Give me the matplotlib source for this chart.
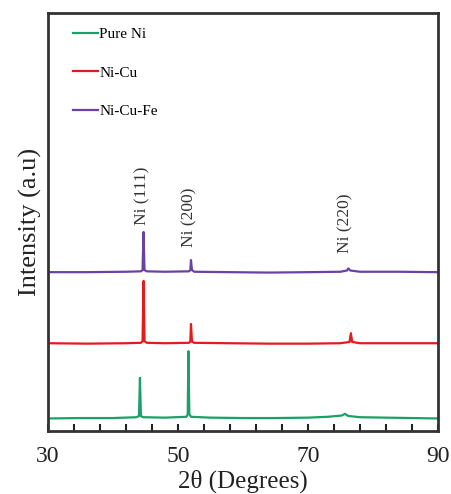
import matplotlib
matplotlib.use("Agg")
import matplotlib.pyplot as plt
from matplotlib.ticker import FixedLocator

plt.rcParams['font.family'] = ['Liberation Serif', 'DejaVu Serif']

# Pure Ni
x_ni = [30, 35, 40, 43.6, 44.0, 44.15, 44.3, 44.6, 48, 51.3, 51.5, 51.6, 51.75, 52.0,
        55, 60, 65, 70, 73, 75.2, 75.7, 76.2, 78, 82, 86, 90]
y_ni = [3.0, 3.1, 3.1, 3.3, 3.6, 12.7, 3.6, 3.3, 3.2, 3.4, 4.0, 19.1, 4.0, 3.4,
        3.2, 3.1, 3.1, 3.2, 3.4, 3.7, 4.1, 3.6, 3.3, 3.2, 3.1, 3.0]
# Ni-Cu
x_nicu = [30, 36, 42, 44.3, 44.55, 44.7, 44.85, 45.2, 48, 51.7, 51.9, 52.0, 52.15, 52.5,
          58, 64, 70, 75, 76.4, 76.6, 76.8, 78, 84, 90]
y_nicu = [21.0, 20.9, 21.0, 21.1, 21.5, 35.9, 21.5, 21.1, 21.0, 21.1, 21.4, 25.6, 21.4, 21.1,
          21.0, 20.9, 20.9, 21.0, 21.3, 23.4, 21.3, 21.0, 21.0, 21.0]
# Ni-Cu-Fe
x_nicufe = [30, 36, 42, 44.3, 44.55, 44.7, 44.85, 45.2, 48, 51.7, 51.9, 52.0, 52.15, 52.5,
            58, 64, 70, 75, 76.0, 76.2, 76.5, 78, 84, 90]
y_nicufe = [38.0, 38.0, 38.1, 38.2, 38.5, 47.6, 38.5, 38.2, 38.1, 38.2, 38.5, 40.9, 38.5, 38.1,
            38.0, 37.9, 38.0, 38.1, 38.4, 38.9, 38.4, 38.1, 38.1, 38.0]

peak_labels = ["Ni (111)", "Ni (200)", "Ni (220)"]
peak_pos = [44.6, 51.7, 75.7]
peak_label_y = [49.3, 44.0, 42.6]

xtick_labels = [30, 50, 70, 90]
minor_ticks = [30, 34, 38, 42, 46, 50, 54, 58, 62, 66, 70, 74, 78, 82, 86, 90]

fig = plt.figure(figsize=(4.51, 4.94), dpi=100)
ax = fig.add_axes([0.1064, 0.1275, 0.8647, 0.8462])

ax.plot(x_ni, y_ni, color='#1aa068', lw=1.6, label='Pure Ni')
ax.plot(x_nicu, y_nicu, color='#e41a1c', lw=1.6, label='Ni-Cu')
ax.plot(x_nicufe, y_nicufe, color='#6a42a6', lw=1.6, label='Ni-Cu-Fe')

for lab, px, py in zip(peak_labels, peak_pos, peak_label_y):
    ax.text(px, py, lab, rotation=90, ha='center', va='bottom', fontsize=12.5, color='#333333')

ax.set_xlim(30, 90)
ax.set_ylim(0, 100)
ax.xaxis.set_major_locator(FixedLocator(xtick_labels))
ax.xaxis.set_minor_locator(FixedLocator(minor_ticks))
ax.tick_params(axis='x', which='both', direction='in', length=5, width=1.5,
               top=False, labelsize=17, colors='#222222', pad=11)
ax.tick_params(axis='y', left=False, labelleft=False)
for s in ax.spines.values():
    s.set_linewidth(2)
    s.set_color('#333333')

ax.set_xlabel('2θ (Degrees)', fontsize=18, labelpad=2, color='#222222')
ax.set_ylabel('Intensity (a.u)', fontsize=19, labelpad=4, color='#222222')

leg = ax.legend(loc='upper left', frameon=False, fontsize=11, handlelength=1.6,
                handletextpad=0.1, labelspacing=1.62, bbox_to_anchor=(0.03, 0.998))

fig.savefig('out.png', dpi=100)
